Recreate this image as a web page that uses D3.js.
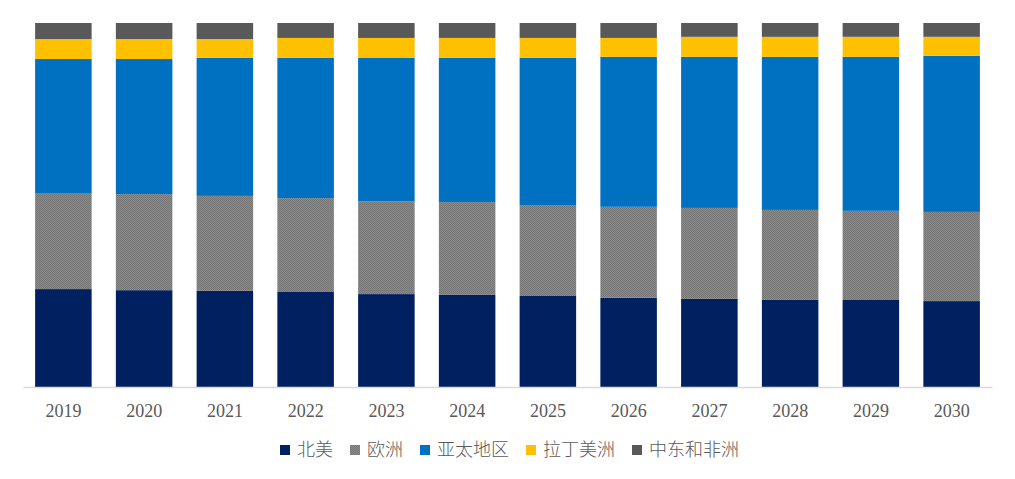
<!DOCTYPE html>
<html><head><meta charset="utf-8">
<script src="https://cdn.jsdelivr.net/npm/d3@7"></script>
<style>html,body{margin:0;padding:0;background:#fff;}svg{display:block;}</style>
</head><body>
<svg id="c" width="1015" height="479"></svg>
<script>
const years = ["2019","2020","2021","2022","2023","2024","2025","2026","2027","2028","2029","2030"];
const seriesNames = ["北美","欧洲","亚太地区","拉丁美洲","中东和非洲"];
const northAmerica = [26.9,26.6,26.4,26.1,25.5,25.3,25.0,24.5,24.2,23.9,23.9,23.6];
const europe       = [26.4,26.4,26.1,25.8,25.5,25.5,25.0,25.0,25.0,24.7,24.5,24.5];
const asiaPacific  = [36.8,37.1,37.9,38.5,39.3,39.6,40.4,41.2,41.5,42.0,42.3,42.9];
const latinAmerica = [5.5,5.5,5.2,5.5,5.5,5.5,5.5,5.2,5.5,5.5,5.5,5.2];
const middleEastAfrica = [4.4,4.4,4.4,4.1,4.1,4.1,4.1,4.1,3.8,3.8,3.8,3.8];

const seriesValues = [northAmerica, europe, asiaPacific, latinAmerica, middleEastAfrica];
const colors = ["#002060","url(#eupat)","#0070C0","#FFC000","#595959"];

const table = years.map((yr,i)=>{
  const row = {year:yr};
  seriesNames.forEach((s,k)=>row[s]=seriesValues[k][i]);
  return row;
});
const stacked = d3.stack().keys(seriesNames).offset(d3.stackOffsetExpand)(table);

const svg = d3.select("#c");
const defs = svg.append("defs");
const pat = defs.append("pattern").attr("id","eupat").attr("patternUnits","userSpaceOnUse")
  .attr("width",2).attr("height",2);
pat.append("rect").attr("width",2).attr("height",2).attr("fill","#8a8a8a");
pat.append("rect").attr("width",1).attr("height",1).attr("fill","#767676");
pat.append("rect").attr("x",1).attr("y",1).attr("width",1).attr("height",1).attr("fill","#767676");

const mLeft = 23, mRight = 992, mTop = 23, mBottom = 387;
const x = d3.scaleBand().domain(years).range([mLeft,mRight]).paddingInner(0.3).paddingOuter(0.15);
const y = d3.scaleLinear().domain([0,1]).range([mBottom,mTop]);

svg.append("g").selectAll("g").data(stacked).join("g")
  .attr("fill",(d,i)=>colors[i])
  .selectAll("rect").data(d=>d).join("rect")
  .attr("x",d=>x(d.data.year))
  .attr("width",x.bandwidth())
  .attr("y",d=>y(d[1]))
  .attr("height",d=>y(d[0])-y(d[1]));

const ax = svg.append("g").attr("transform",`translate(0,${mBottom})`)
  .call(d3.axisBottom(x).tickSize(0).tickPadding(17));
ax.select(".domain").attr("stroke","#d9d9d9").attr("stroke-width",1.5);
ax.selectAll("text").attr("font-family","'Liberation Serif','Times New Roman',serif")
  .attr("font-size",18).attr("fill","#595959");

// legend
const lg = svg.append("g");
let lx = 280;
seriesNames.forEach((s,i)=>{
  const g = lg.append("g").attr("transform",`translate(${lx},0)`);
  g.append("rect").attr("x",0).attr("y",445).attr("width",10).attr("height",10).attr("fill",colors[i]);
  const t = g.append("text").attr("x",17).attr("y",456)
    .attr("font-family","'Noto Sans CJK SC',sans-serif").attr("font-size",18)
    .attr("font-weight",300)
    .attr("fill","#595959").text(s);
  lx += 17 + t.node().getComputedTextLength() + 17;
});
</script>
</body></html>
